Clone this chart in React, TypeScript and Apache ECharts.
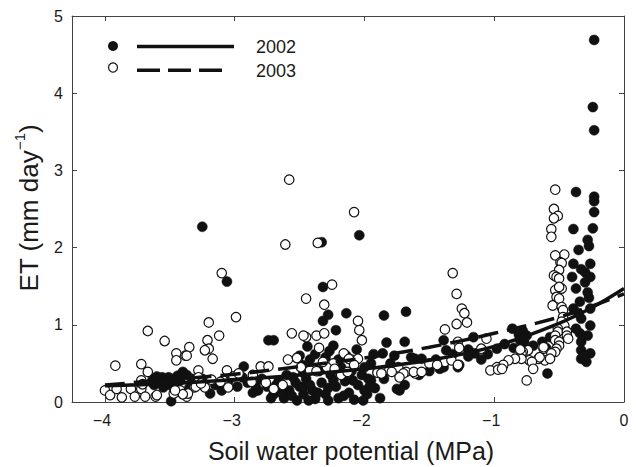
import React, { useEffect, useRef } from 'react';
import * as echarts from 'echarts';

const xTicks = [-4, -3, -2, -1, 0];
const yTicks = [0, 1, 2, 3, 4, 5];
const legendYears = ['2002', '2003'];
const xTitle = 'Soil water potential (MPa)';

// fitted curves
const fit2002 = [[-4, 0.21], [-3.5, 0.24], [-3, 0.29], [-2.5, 0.35], [-2, 0.43], [-1.5, 0.54], [-1, 0.72], [-0.5, 1.02], [-0.25, 1.22], [0, 1.47]];
const fit2003 = [[-4, 0.22], [-3.5, 0.29], [-3, 0.36], [-2.5, 0.46], [-2, 0.57], [-1.5, 0.71], [-1, 0.89], [-0.5, 1.1], [-0.25, 1.24], [0, 1.4]];

// 2002 observations (filled circles)
const obs2002 = [
  [-0.23, 4.69], [-0.24, 3.82], [-0.23, 3.52], [-3.25, 2.27], [-2.04, 2.16], [-3.06, 1.56], [-2.33, 2.07],
  [-0.37, 2.72], [-0.23, 2.66], [-0.23, 2.6], [-0.23, 2.46], [-0.39, 2.24], [-0.24, 2.25], [-0.28, 2.1], [-0.35, 1.97], [-0.27, 2.02],
  [-0.39, 1.79], [-0.26, 1.79], [-0.4, 1.62], [-0.26, 1.62], [-0.33, 1.72], [-0.3, 1.68],
  [-0.37, 1.47], [-0.28, 1.42], [-0.34, 1.3], [-0.26, 1.21], [-0.39, 1.21], [-0.33, 1.08], [-0.26, 0.99], [-0.34, 0.89], [-0.28, 0.86],
  [-0.33, 0.78], [-0.33, 0.67], [-0.26, 0.63], [-0.29, 0.52], [-0.33, 0.56], [-0.31, 0.6], [-0.37, 0.95], [-0.3, 1.55], [-0.27, 1.35], [-0.35, 1.15],
  [-2.32, 1.49], [-2.28, 1.13], [-2.14, 1.15], [-1.85, 1.12], [-1.68, 1.17], [-2.32, 1.05], [-2.22, 0.93], [-1.83, 0.77], [-1.69, 0.78],
  [-2.24, 0.73], [-1.64, 0.58], [-1.39, 0.8], [-1.37, 0.67], [-1.27, 0.48], [-1.16, 0.84], [-1.15, 0.63], [-0.98, 0.69], [-0.86, 0.95],
  [-0.75, 0.86], [-0.7, 0.73], [-1.42, 0.43], [-0.59, 0.37], [-0.57, 0.84], [-1.69, 0.22], [-1.73, 0.15], [-1.2, 0.68], [-1.2, 0.59],
  [-1.39, 0.45], [-1.28, 0.45], [-1.61, 0.56], [-1.56, 0.56], [-0.78, 0.92], [-0.81, 0.87], [-0.63, 0.78], [-0.6, 0.7], [-0.77, 0.78], [-1.86, 0.63],
  [-2.74, 0.8], [-2.7, 0.8], [-2.93, 0.46],
  [-3.63, 0.3], [-3.56, 0.32], [-3.51, 0.32], [-3.62, 0.22], [-3.55, 0.19], [-3.5, 0.22], [-3.4, 0.39], [-3.42, 0.28], [-3.49, 0.01],
  [-3.64, 0.26], [-3.45, 0.24], [-3.37, 0.35], [-3.19, 0.11], [-3.15, 0.22], [-3.58, 0.27], [-3.47, 0.3],
  [-3.53, 0.26], [-3.44, 0.34], [-3.33, 0.3], [-3.6, 0.33],
  [-2.94, 0.32], [-2.9, 0.25], [-2.86, 0.12], [-2.79, 0.3], [-2.75, 0.2], [-2.7, 0.1], [-2.66, 0.28], [-2.62, 0.05], [-2.58, 0.15],
  [-2.55, 0.32], [-2.52, 0.02], [-2.5, 0.2], [-2.47, 0.1], [-2.47, 0.38], [-2.48, 0.48], [-2.47, 0.19],
  [-2.45, 0.3], [-2.4, 0.15], [-2.38, 0.04], [-2.33, 0.25], [-2.3, 0.1], [-2.26, 0.35], [-2.22, 0.2], [-2.2, 0.05], [-2.15, 0.27],
  [-2.12, 0.12], [-2.08, 0.03], [-2.05, 0.22], [-2.02, 0.35], [-1.98, 0.1], [-1.95, 0.28], [-1.92, 0.18], [-1.88, 0.05], [-1.85, 0.3],
  [-2.09, 0.28], [-1.97, 0.3], [-1.75, 0.17],
  [-2.56, 0.08], [-2.43, 0.02], [-2.28, 0.02], [-2.16, 0.08], [-2.01, 0.02], [-1.96, 0.2], [-2.36, 0.12], [-2.24, 0.28], [-2.53, 0.25],
  [-2.68, 0.22], [-2.82, 0.15],
  [-2.42, 0.55], [-2.38, 0.62], [-2.3, 0.58], [-2.27, 0.66], [-2.2, 0.55], [-2.14, 0.6], [-1.95, 0.5], [-1.93, 0.62], [-2.0, 0.45],
  [-2.06, 0.68], [-1.8, 0.5], [-1.77, 0.6], [-2.5, 0.6], [-2.44, 0.72],
  [-2.35, 0.4], [-2.18, 0.45], [-2.42, 0.22], [-2.28, 0.18], [-2.1, 0.4], [-2.0, 0.15], [-1.9, 0.38], [-2.6, 0.35], [-2.72, 0.05],
  [-2.64, 0.12], [-2.84, 0.22], [-2.98, 0.2], [-3.05, 0.27], [-3.1, 0.15], [-3.25, 0.3], [-3.3, 0.25], [-3.35, 0.18],
  [-1.58, 0.35], [-1.5, 0.4], [-1.45, 0.55], [-1.32, 0.62], [-1.1, 0.55], [-1.05, 0.62], [-0.92, 0.75], [-0.85, 0.7], [-0.8, 0.8]
];

// 2003 observations (open circles)
const obs2003 = [
  [-0.53, 2.75], [-0.54, 2.5], [-0.51, 2.41], [-0.54, 2.38], [-0.56, 2.24], [-0.56, 2.14], [-2.58, 2.88], [-2.08, 2.46], [-2.61, 2.04],
  [-2.36, 2.06], [-3.1, 1.67], [-0.46, 1.91], [-0.53, 1.9], [-0.49, 1.81], [-0.48, 1.8], [-0.5, 1.71], [-0.54, 1.64], [-0.52, 1.62],
  [-0.5, 1.6], [-0.48, 1.47], [-0.53, 1.45], [-0.5, 1.49], [-0.52, 1.36], [-0.5, 1.34], [-0.55, 1.25], [-0.48, 1.23], [-0.47, 1.19],
  [-0.47, 1.1], [-0.48, 1.04], [-0.46, 0.99], [-0.51, 0.95], [-0.51, 0.91], [-0.44, 0.91], [-0.53, 0.86], [-0.44, 0.86], [-0.43, 0.82],
  [-0.53, 0.8], [-0.5, 0.78], [-0.5, 0.73], [-0.52, 0.69], [-0.53, 0.65], [-0.56, 0.63], [-0.62, 0.69], [-0.62, 0.71], [-0.61, 0.54],
  [-0.66, 0.56], [-0.65, 0.58], [-0.73, 0.54], [-0.71, 0.52], [-0.7, 0.43], [-0.75, 0.28], [-0.57, 0.56], [-0.74, 0.67],
  [-0.78, 0.65], [-0.79, 0.63], [-0.79, 0.56], [-0.84, 0.56], [-0.89, 0.54], [-0.93, 0.48], [-0.98, 0.45], [-1.03, 0.41], [-0.97, 0.42], [-0.94, 0.43],
  [-1.32, 1.67], [-1.29, 1.4], [-1.25, 1.21], [-1.23, 1.15], [-1.21, 1.03], [-1.29, 1.01], [-1.38, 0.94], [-1.06, 0.82], [-1.28, 0.78],
  [-1.27, 0.7], [-1.1, 0.69], [-0.8, 0.68],
  [-2.25, 1.52], [-2.45, 1.34], [-2.31, 1.26], [-2.05, 1.05], [-2.04, 0.93], [-2.02, 0.8], [-2.45, 0.84], [-2.37, 0.86], [-2.31, 0.89],
  [-2.35, 0.7], [-2.16, 0.63], [-2.1, 0.55], [-2.05, 0.56], [-2.24, 0.5], [-2.29, 0.45], [-2.42, 0.41], [-2.37, 0.4], [-2.23, 0.43],
  [-2.18, 0.35], [-2.13, 0.39], [-1.9, 0.38], [-1.81, 0.41], [-1.74, 0.45], [-1.68, 0.39], [-1.61, 0.37], [-2.49, 0.45], [-2.32, 0.52],
  [-2.12, 0.56], [-2.08, 0.48],
  [-1.87, 0.37], [-1.79, 0.39], [-1.7, 0.37], [-1.62, 0.39], [-1.56, 0.39], [-1.5, 0.5], [-1.43, 0.51], [-1.38, 0.52], [-1.33, 0.54],
  [-1.28, 0.48], [-1.73, 0.32], [-1.44, 0.48],
  [-3.67, 0.92], [-3.54, 0.79], [-3.45, 0.63], [-3.45, 0.54], [-3.38, 0.6], [-3.35, 0.71], [-3.92, 0.47], [-3.72, 0.49], [-3.67, 0.39],
  [-3.72, 0.28], [-4.0, 0.15], [-3.96, 0.09], [-3.91, 0.17], [-3.87, 0.06], [-3.8, 0.17], [-3.77, 0.07], [-3.72, 0.17], [-3.69, 0.07],
  [-3.61, 0.07], [-3.47, 0.11], [-3.42, 0.15], [-3.37, 0.07], [-3.71, 0.23],
  [-2.99, 1.1], [-3.2, 1.03], [-3.12, 0.86], [-3.21, 0.8], [-3.2, 0.69], [-3.23, 0.67], [-3.17, 0.56], [-3.37, 0.6], [-2.56, 0.89],
  [-2.47, 0.86], [-2.59, 0.55], [-2.52, 0.57], [-2.8, 0.46], [-2.74, 0.46], [-3.28, 0.41], [-3.28, 0.32], [-3.06, 0.41], [-3.01, 0.33],
  [-3.09, 0.28], [-3.18, 0.29], [-2.86, 0.35], [-2.87, 0.26], [-3.31, 0.19], [-3.23, 0.19], [-3.36, 0.11], [-3.05, 0.19], [-2.7, 0.17],
  [-2.63, 0.22], [-3.11, 0.26], [-2.97, 0.37], [-2.76, 0.25], [-3.4, 0.1], [-3.6, 0.09], [-3.46, 0.15], [-3.3, 0.2], [-3.26, 0.24]
];

const FONT = '"Liberation Sans", Arial, Helvetica, sans-serif';
const INK = '#1a1a1a';
const AXIS = '#444';

export default function App() {
  const ref = useRef<HTMLDivElement>(null);
  useEffect(() => {
    document.body.style.margin = '0';
    if (!ref.current) return;
    const chart = echarts.init(ref.current, null, { renderer: 'svg' });
    const xMin = -4.254;
    const baseX = {
      type: 'value', min: xMin, max: 0, splitLine: { show: false },
      axisLine: { show: true, onZero: false, lineStyle: { color: AXIS, width: 1 } },
      axisTick: { show: true, inside: true, length: 5, customValues: xTicks.slice(0, 4), lineStyle: { color: AXIS } },
    };
    const baseY = {
      type: 'value', min: 0, max: 5, interval: 1, splitLine: { show: false },
      axisLine: { show: true, onZero: false, lineStyle: { color: AXIS, width: 1 } },
      axisTick: { show: true, inside: true, length: 5, customValues: yTicks.slice(1, 5), lineStyle: { color: AXIS } },
    };
    const option: any = {
      animation: false,
      grid: { left: 72, right: 12, top: 16, bottom: 65, containLabel: false },
      xAxis: [
        {
          ...baseX, position: 'bottom',
          axisLabel: {
            show: true, customValues: xTicks, margin: 10, color: INK, fontFamily: FONT, fontSize: 16,
            formatter: (v: number) => (v < 0 ? '{n|\u2212' + Math.abs(v) + '}' : '{z|0}'),
            rich: {
              n: { fontSize: 16, fontFamily: FONT, color: INK, padding: [0, 6, 0, 0] },
              z: { fontSize: 16, fontFamily: FONT, color: INK },
            },
          },
        },
        { ...baseX, position: 'top', axisLabel: { show: false } },
      ],
      yAxis: [
        {
          ...baseY, position: 'left',
          axisLabel: { show: true, customValues: yTicks, margin: 9, color: INK, fontFamily: FONT, fontSize: 16 },
        },
        { ...baseY, position: 'right', axisLabel: { show: false } },
      ],
      series: [
        {
          type: 'scatter', name: legendYears[0], data: obs2002, symbol: 'circle', symbolSize: 10,
          itemStyle: { color: '#111', borderColor: '#111', borderWidth: 0.5, opacity: 1 }, z: 2,
        },
        {
          type: 'scatter', name: legendYears[1], data: obs2003, symbol: 'circle', symbolSize: 9.5,
          itemStyle: { color: '#fff', borderColor: '#111', borderWidth: 1.2, opacity: 1 }, z: 3,
        },
        {
          type: 'line', data: fit2002, smooth: 0.4, symbol: 'none', z: 4,
          lineStyle: { color: '#111', width: 3.5, type: 'solid' },
        },
        {
          type: 'line', data: fit2003, smooth: 0.4, symbol: 'none', z: 4,
          lineStyle: { color: '#111', width: 3.5, type: [20, 9] },
        },
      ],
      graphic: [
        { type: 'circle', shape: { cx: 113, cy: 46, r: 5 }, style: { fill: '#111' }, z: 10 },
        { type: 'line', shape: { x1: 137, y1: 46.5, x2: 234, y2: 46.5 }, style: { stroke: '#111', lineWidth: 3.5 }, z: 10 },
        { type: 'text', x: 256, y: 47, style: { text: legendYears[0], fontSize: 18, fontFamily: FONT, fill: INK, textVerticalAlign: 'middle' }, z: 10 },
        { type: 'circle', shape: { cx: 113, cy: 67.5, r: 4.5 }, style: { fill: '#fff', stroke: '#111', lineWidth: 1.2 }, z: 10 },
        { type: 'line', shape: { x1: 137, y1: 70.3, x2: 223, y2: 70.3 }, style: { stroke: '#111', lineWidth: 3.5, lineDash: [23, 8] }, z: 10 },
        { type: 'text', x: 256, y: 71, style: { text: legendYears[1], fontSize: 18, fontFamily: FONT, fill: INK, textVerticalAlign: 'middle' }, z: 10 },
        {
          type: 'text', x: 351, y: 451,
          style: { text: xTitle, fontSize: 25, fontFamily: FONT, fill: INK, textAlign: 'center', textVerticalAlign: 'middle' }, z: 10,
        },
        {
          type: 'text', x: 27, y: 208, rotation: Math.PI / 2,
          style: {
            text: '{a|ET (mm day}{s|\u22121}{a|)}', textAlign: 'center', textVerticalAlign: 'middle', fill: INK,
            rich: {
              a: { fontSize: 26, fontFamily: FONT, fill: INK, color: INK, verticalAlign: 'bottom', lineHeight: 30 },
              s: { fontSize: 15, fontFamily: FONT, fill: INK, color: INK, verticalAlign: 'top', lineHeight: 30 },
            },
          }, z: 10,
        },
      ],
    };
    chart.setOption(option);
    return () => chart.dispose();
  }, []);
  return <div ref={ref} style={{ width: 636, height: 467 }} />;
}
